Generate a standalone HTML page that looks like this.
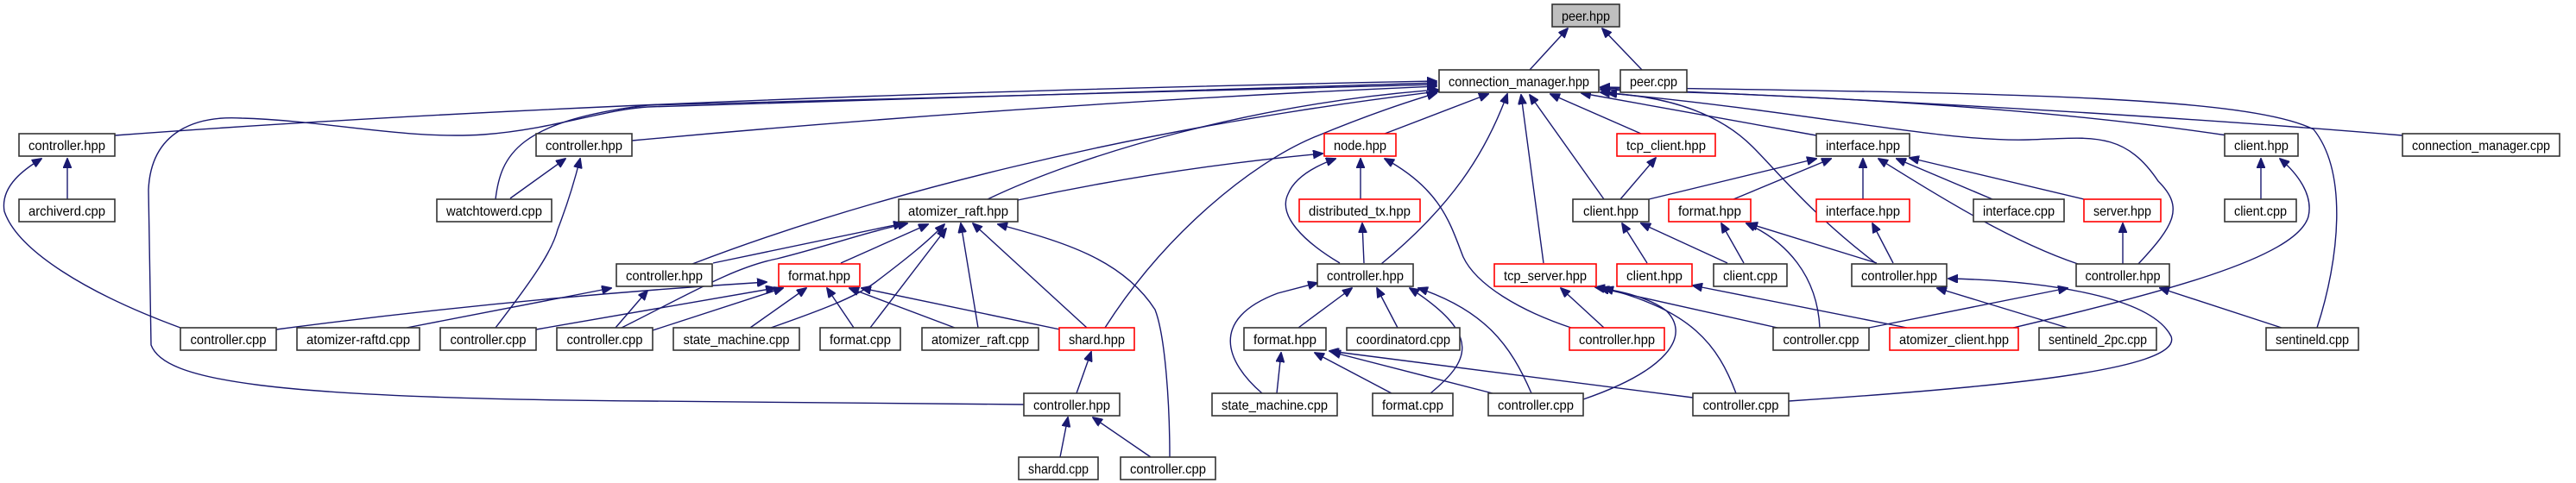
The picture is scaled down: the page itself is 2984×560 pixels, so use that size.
<!DOCTYPE html>
<html><head><meta charset="utf-8"><style>
html,body{margin:0;padding:0;background:#fff;width:2984px;height:560px;overflow:hidden}
svg{display:block}
text{font-family:"Liberation Sans","DejaVu Sans",sans-serif;font-size:16px;fill:#000}
.e{fill:none;stroke:#191970;stroke-width:1.4}
.n{fill:#fff;stroke:#333;stroke-width:1.6}
.r{fill:#fff;stroke:#ff0000;stroke-width:1.6}
</style></head><body>
<svg width="2984" height="560" viewBox="0 0 2984 560" xmlns="http://www.w3.org/2000/svg">
<defs><marker id="a" markerUnits="userSpaceOnUse" markerWidth="12" markerHeight="10" refX="11" refY="5" orient="auto"><path d="M0,0 L12,5 L0,10 z" fill="#191970" stroke="#191970"/></marker></defs>
<g class="e" marker-end="url(#a)">
<path d="M1772,81 L1816,33"/>
<path d="M1902,81 L1856,33"/>
<path d="M133,157 Q740,112 1664,94"/>
<path d="M1186,469 L750,465 C300,462 190,440 175,400 L172,220 C175,150 230,134 280,137 C380,140 470,162 560,156 C640,150 700,127 750,124 L1664,96"/>
<path d="M574,231 C580,180 600,140 750,122 L1664,98"/>
<path d="M732,163 Q1200,120 1664,100"/>
<path d="M802,306 C1000,230 1300,150 1666,106"/>
<path d="M1144,231 C1250,180 1450,120 1666,104"/>
<path d="M1179,232 Q1350,195 1532,178"/>
<path d="M1280,380 C1350,270 1450,190 1520,160 C1580,135 1630,118 1664,108"/>
<path d="M1600,306 C1680,240 1720,180 1746,109"/>
<path d="M1604,155 L1724,109"/>
<path d="M1788,305 L1762,110"/>
<path d="M1858,231 L1772,110"/>
<path d="M1901,155 L1796,109"/>
<path d="M2104,157 L1832,108"/>
<path d="M2174,306 C2100,250 2060,200 2030,170 C1990,130 1930,112 1862,108"/>
<path d="M2580,157 Q2300,115 1854,104"/>
<path d="M2783,157 Q2400,125 1854,102"/>
<path d="M2684,380 C2710,300 2720,200 2680,150 C2600,110 2300,108 1854,101"/>
<path d="M2477,306 C2520,260 2530,240 2500,210 C2460,150 2420,160 2350,162 C2250,165 2100,130 1854,107"/>
<path d="M1910,231 L2104,184"/>
<path d="M2008,231 L2121,184"/>
<path d="M2158,231 L2158,184"/>
<path d="M2407,306 C2330,280 2250,230 2176,184"/>
<path d="M2308,231 L2197,184"/>
<path d="M2414,231 L2212,183"/>
<path d="M2193,305 L2169,259"/>
<path d="M2020,305 L1994,259"/>
<path d="M2108,380 C2105,320 2070,280 2023,259"/>
<path d="M2174,305 L2025,259"/>
<path d="M1908,305 L1879,259"/>
<path d="M2001,305 L1901,259"/>
<path d="M1877,231 L1918,183"/>
<path d="M1576,231 L1576,184"/>
<path d="M1552,305 C1510,280 1480,250 1492,225 C1500,205 1525,192 1547,184"/>
<path d="M1820,380 C1760,360 1710,330 1695,298 C1680,260 1670,220 1604,184"/>
<path d="M1580,305 L1578,259"/>
<path d="M1504,380 L1566,334"/>
<path d="M1619,380 L1595,334"/>
<path d="M1657,456 C1700,420 1720,390 1633,334"/>
<path d="M1774,456 C1750,400 1720,360 1643,334"/>
<path d="M1462,456 C1420,420 1400,370 1480,340 L1526,328"/>
<path d="M1479,456 L1484,409"/>
<path d="M1612,456 L1523,409"/>
<path d="M1729,456 L1542,408"/>
<path d="M1961,461 L1540,407"/>
<path d="M1858,380 L1808,334"/>
<path d="M1834,463 C1930,430 1960,390 1930,360 C1910,345 1880,338 1848,333"/>
<path d="M2059,380 L1853,334"/>
<path d="M2011,456 C1990,400 1960,360 1858,334"/>
<path d="M2209,380 L1961,331"/>
<path d="M2165,380 L2395,334"/>
<path d="M2072,465 C2300,450 2530,430 2515,390 C2490,340 2350,325 2257,323"/>
<path d="M2395,380 L2244,334"/>
<path d="M2643,380 L2502,334"/>
<path d="M2332,380 C2500,340 2660,300 2674,251 C2680,225 2660,200 2641,184"/>
<path d="M2459,306 L2459,259"/>
<path d="M2619,231 L2619,184"/>
<path d="M78,231 L78,184"/>
<path d="M209,380 C100,340 20,290 5,245 C0,215 30,195 48,184"/>
<path d="M591,230 L655,184"/>
<path d="M574,380 C620,320 640,290 646,266 C660,230 668,200 672,184"/>
<path d="M471,380 L708,334"/>
<path d="M713,380 L750,337"/>
<path d="M320,382 Q600,345 888,327"/>
<path d="M621,382 L898,334"/>
<path d="M756,383 L907,334"/>
<path d="M826,305 L1046,259"/>
<path d="M720,380 C800,340 850,310 900,300 C960,285 1000,270 1051,259"/>
<path d="M974,305 L1075,260"/>
<path d="M893,380 C950,360 990,345 1013,328 C1050,300 1075,280 1094,260"/>
<path d="M1008,380 L1096,265"/>
<path d="M1133,380 L1113,259"/>
<path d="M1259,380 L1127,259"/>
<path d="M1355,530 C1355,470 1350,390 1338,359 C1300,300 1230,280 1156,260"/>
<path d="M869,380 L934,334"/>
<path d="M989,380 L958,334"/>
<path d="M1106,380 L984,334"/>
<path d="M1228,382 L998,334"/>
<path d="M1247,456 L1264,408"/>
<path d="M1228,530 L1237,484"/>
<path d="M1333,530 L1266,484"/>
</g>
<g>
<rect x="1798" y="5" width="78" height="26" fill="#bfbfbf" stroke="#333" stroke-width="1.6"/><text x="1837" y="24" text-anchor="middle" textLength="56" lengthAdjust="spacingAndGlyphs">peer.hpp</text>
<rect class="n" x="1667" y="81" width="185" height="26"/><text x="1759.5" y="100" text-anchor="middle" textLength="163" lengthAdjust="spacingAndGlyphs">connection_manager.hpp</text>
<rect class="n" x="1877" y="81" width="77" height="26"/><text x="1915.5" y="100" text-anchor="middle" textLength="55" lengthAdjust="spacingAndGlyphs">peer.cpp</text>

<rect class="n" x="22" y="155" width="111" height="26"/><text x="77.5" y="174" text-anchor="middle" textLength="89" lengthAdjust="spacingAndGlyphs">controller.hpp</text>
<rect class="n" x="621" y="155" width="111" height="26"/><text x="676.5" y="174" text-anchor="middle" textLength="89" lengthAdjust="spacingAndGlyphs">controller.hpp</text>
<rect class="r" x="1534" y="155" width="83" height="26"/><text x="1575.5" y="174" text-anchor="middle" textLength="61" lengthAdjust="spacingAndGlyphs">node.hpp</text>
<rect class="r" x="1873" y="155" width="114" height="26"/><text x="1930" y="174" text-anchor="middle" textLength="92" lengthAdjust="spacingAndGlyphs">tcp_client.hpp</text>
<rect class="n" x="2104" y="155" width="108" height="26"/><text x="2158" y="174" text-anchor="middle" textLength="86" lengthAdjust="spacingAndGlyphs">interface.hpp</text>
<rect class="n" x="2577" y="155" width="85" height="26"/><text x="2619.5" y="174" text-anchor="middle" textLength="63" lengthAdjust="spacingAndGlyphs">client.hpp</text>
<rect class="n" x="2783" y="155" width="182" height="26"/><text x="2874" y="174" text-anchor="middle" textLength="160" lengthAdjust="spacingAndGlyphs">connection_manager.cpp</text>

<rect class="n" x="22" y="231" width="111" height="26"/><text x="77.5" y="250" text-anchor="middle" textLength="89" lengthAdjust="spacingAndGlyphs">archiverd.cpp</text>
<rect class="n" x="506" y="231" width="133" height="26"/><text x="572.5" y="250" text-anchor="middle" textLength="111" lengthAdjust="spacingAndGlyphs">watchtowerd.cpp</text>
<rect class="n" x="1041" y="231" width="138" height="26"/><text x="1110" y="250" text-anchor="middle" textLength="116" lengthAdjust="spacingAndGlyphs">atomizer_raft.hpp</text>
<rect class="r" x="1505" y="231" width="140" height="26"/><text x="1575" y="250" text-anchor="middle" textLength="118" lengthAdjust="spacingAndGlyphs">distributed_tx.hpp</text>
<rect class="n" x="1822" y="231" width="88" height="26"/><text x="1866" y="250" text-anchor="middle" textLength="64" lengthAdjust="spacingAndGlyphs">client.hpp</text>
<rect class="r" x="1933" y="231" width="95" height="26"/><text x="1980.5" y="250" text-anchor="middle" textLength="73" lengthAdjust="spacingAndGlyphs">format.hpp</text>
<rect class="r" x="2104" y="231" width="108" height="26"/><text x="2158" y="250" text-anchor="middle" textLength="86" lengthAdjust="spacingAndGlyphs">interface.hpp</text>
<rect class="n" x="2286" y="231" width="105" height="26"/><text x="2338.5" y="250" text-anchor="middle" textLength="83" lengthAdjust="spacingAndGlyphs">interface.cpp</text>
<rect class="r" x="2414" y="231" width="89" height="26"/><text x="2458.5" y="250" text-anchor="middle" textLength="67" lengthAdjust="spacingAndGlyphs">server.hpp</text>
<rect class="n" x="2577" y="231" width="83" height="26"/><text x="2618.5" y="250" text-anchor="middle" textLength="61" lengthAdjust="spacingAndGlyphs">client.cpp</text>

<rect class="n" x="714" y="306" width="111" height="26"/><text x="769.5" y="325" text-anchor="middle" textLength="89" lengthAdjust="spacingAndGlyphs">controller.hpp</text>
<rect class="r" x="902" y="306" width="94" height="26"/><text x="949" y="325" text-anchor="middle" textLength="72" lengthAdjust="spacingAndGlyphs">format.hpp</text>
<rect class="n" x="1526" y="306" width="111" height="26"/><text x="1581.5" y="325" text-anchor="middle" textLength="89" lengthAdjust="spacingAndGlyphs">controller.hpp</text>
<rect class="r" x="1731" y="306" width="118" height="26"/><text x="1790" y="325" text-anchor="middle" textLength="96" lengthAdjust="spacingAndGlyphs">tcp_server.hpp</text>
<rect class="r" x="1873" y="306" width="87" height="26"/><text x="1916.5" y="325" text-anchor="middle" textLength="65" lengthAdjust="spacingAndGlyphs">client.hpp</text>
<rect class="n" x="1985" y="306" width="85" height="26"/><text x="2027.5" y="325" text-anchor="middle" textLength="63" lengthAdjust="spacingAndGlyphs">client.cpp</text>
<rect class="n" x="2145" y="306" width="110" height="26"/><text x="2200" y="325" text-anchor="middle" textLength="88" lengthAdjust="spacingAndGlyphs">controller.hpp</text>
<rect class="n" x="2405" y="306" width="108" height="26"/><text x="2459" y="325" text-anchor="middle" textLength="87" lengthAdjust="spacingAndGlyphs">controller.hpp</text>

<rect class="n" x="209" y="380" width="111" height="26"/><text x="264.5" y="399" text-anchor="middle" textLength="88" lengthAdjust="spacingAndGlyphs">controller.cpp</text>
<rect class="n" x="344" y="380" width="142" height="26"/><text x="415" y="399" text-anchor="middle" textLength="120" lengthAdjust="spacingAndGlyphs">atomizer-raftd.cpp</text>
<rect class="n" x="510" y="380" width="111" height="26"/><text x="565.5" y="399" text-anchor="middle" textLength="88" lengthAdjust="spacingAndGlyphs">controller.cpp</text>
<rect class="n" x="645" y="380" width="111" height="26"/><text x="700.5" y="399" text-anchor="middle" textLength="88" lengthAdjust="spacingAndGlyphs">controller.cpp</text>
<rect class="n" x="780" y="380" width="146" height="26"/><text x="853" y="399" text-anchor="middle" textLength="123" lengthAdjust="spacingAndGlyphs">state_machine.cpp</text>
<rect class="n" x="950" y="380" width="93" height="26"/><text x="996.5" y="399" text-anchor="middle" textLength="71" lengthAdjust="spacingAndGlyphs">format.cpp</text>
<rect class="n" x="1068" y="380" width="135" height="26"/><text x="1135.5" y="399" text-anchor="middle" textLength="113" lengthAdjust="spacingAndGlyphs">atomizer_raft.cpp</text>
<rect class="r" x="1227" y="380" width="87" height="26"/><text x="1270.5" y="399" text-anchor="middle" textLength="65" lengthAdjust="spacingAndGlyphs">shard.hpp</text>
<rect class="n" x="1441" y="380" width="95" height="26"/><text x="1488.5" y="399" text-anchor="middle" textLength="73" lengthAdjust="spacingAndGlyphs">format.hpp</text>
<rect class="n" x="1560" y="380" width="131" height="26"/><text x="1625.5" y="399" text-anchor="middle" textLength="109" lengthAdjust="spacingAndGlyphs">coordinatord.cpp</text>
<rect class="r" x="1818" y="380" width="110" height="26"/><text x="1873" y="399" text-anchor="middle" textLength="88" lengthAdjust="spacingAndGlyphs">controller.hpp</text>
<rect class="n" x="2054" y="380" width="111" height="26"/><text x="2109.5" y="399" text-anchor="middle" textLength="88" lengthAdjust="spacingAndGlyphs">controller.cpp</text>
<rect class="r" x="2189" y="380" width="149" height="26"/><text x="2263.5" y="399" text-anchor="middle" textLength="127" lengthAdjust="spacingAndGlyphs">atomizer_client.hpp</text>
<rect class="n" x="2362" y="380" width="136" height="26"/><text x="2430" y="399" text-anchor="middle" textLength="114" lengthAdjust="spacingAndGlyphs">sentineld_2pc.cpp</text>
<rect class="n" x="2625" y="380" width="107" height="26"/><text x="2678.5" y="399" text-anchor="middle" textLength="85" lengthAdjust="spacingAndGlyphs">sentineld.cpp</text>

<rect class="n" x="1186" y="456" width="111" height="26"/><text x="1241.5" y="475" text-anchor="middle" textLength="89" lengthAdjust="spacingAndGlyphs">controller.hpp</text>
<rect class="n" x="1404" y="456" width="145" height="26"/><text x="1476.5" y="475" text-anchor="middle" textLength="123" lengthAdjust="spacingAndGlyphs">state_machine.cpp</text>
<rect class="n" x="1590" y="456" width="93" height="26"/><text x="1636.5" y="475" text-anchor="middle" textLength="71" lengthAdjust="spacingAndGlyphs">format.cpp</text>
<rect class="n" x="1724" y="456" width="110" height="26"/><text x="1779" y="475" text-anchor="middle" textLength="88" lengthAdjust="spacingAndGlyphs">controller.cpp</text>
<rect class="n" x="1961" y="456" width="111" height="26"/><text x="2016.5" y="475" text-anchor="middle" textLength="88" lengthAdjust="spacingAndGlyphs">controller.cpp</text>

<rect class="n" x="1180" y="530" width="92" height="26"/><text x="1226" y="549" text-anchor="middle" textLength="70" lengthAdjust="spacingAndGlyphs">shardd.cpp</text>
<rect class="n" x="1298" y="530" width="110" height="26"/><text x="1353" y="549" text-anchor="middle" textLength="88" lengthAdjust="spacingAndGlyphs">controller.cpp</text>
</g>
</svg>
</body></html>
